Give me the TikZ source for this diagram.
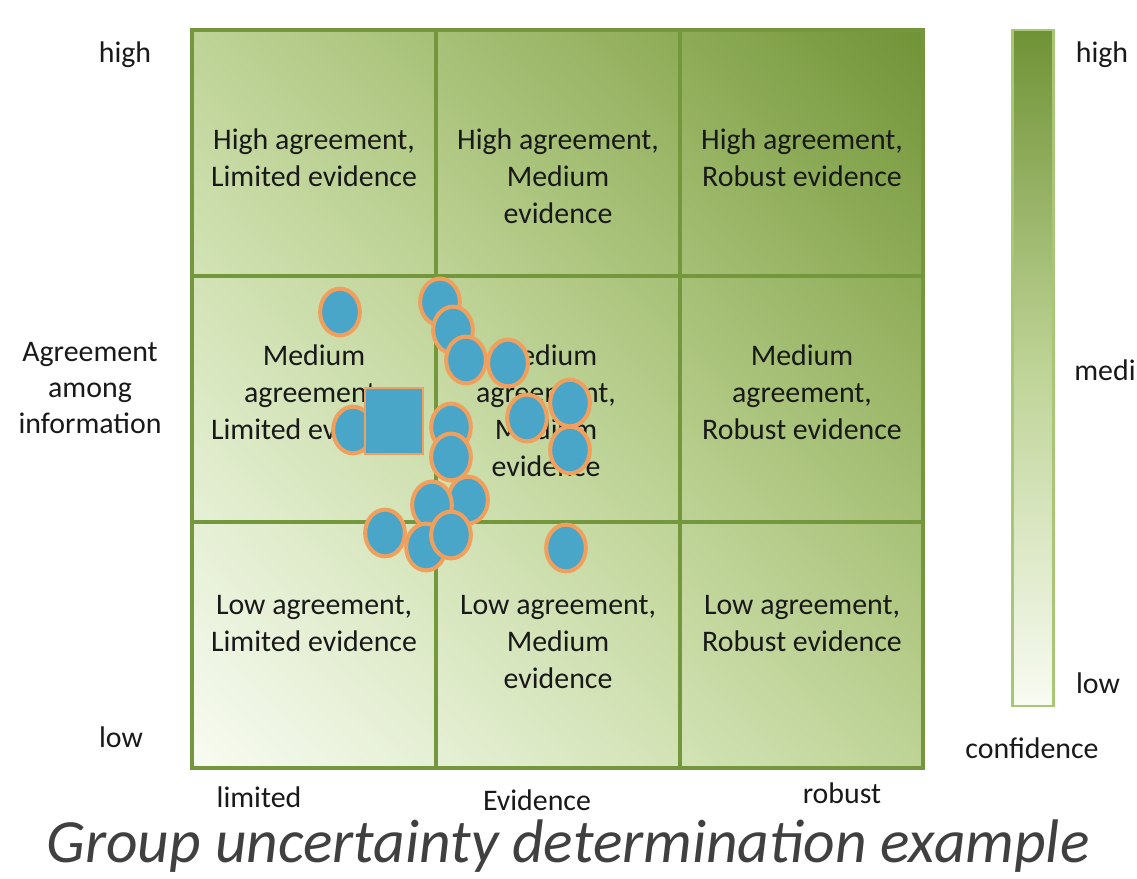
\documentclass[tikz,border=0pt]{standalone}
\usepackage{fontspec}
\setmainfont{Carlito}
\usepackage{tikz}
\usetikzlibrary{positioning}
\usetikzlibrary{shadings}

% green levels, light (0) to dark (6)
\definecolor{lev0}{RGB}{248,251,242}
\definecolor{lev1}{RGB}{230,240,214}
\definecolor{lev2}{RGB}{211,227,182}
\definecolor{lev3}{RGB}{190,211,150}
\definecolor{lev4}{RGB}{166,192,118}
\definecolor{lev5}{RGB}{141,171,86}
\definecolor{lev6}{RGB}{112,146,54}
\definecolor{gridgreen}{RGB}{116,150,60}
\definecolor{barborder}{RGB}{168,198,118}
\definecolor{dotblue}{RGB}{74,166,200}
\definecolor{dotorange}{RGB}{240,160,92}
\definecolor{capgray}{RGB}{64,64,64}

\tikzset{
  gridline/.style={draw=gridgreen, line width=2.2pt},
  celltext/.style={align=center, font=\fontsize{17}{21}\selectfont, anchor=north, text=black!90},
  sidetext/.style={align=center, font=\fontsize{17}{20.5}\selectfont, text=black!90},
  dot/.style={fill=dotblue, draw=dotorange, line width=2.3pt},
}

\begin{document}
\begin{tikzpicture}[x=0.02cm, y=-0.02cm]
  \useasboundingbox (0,0) rectangle (1137,879);

  % shaded cells, darker towards the upper right
  \foreach \i in {0,1,2}{
    \foreach \j in {0,1,2}{
      \pgfmathtruncatemacro{\lo}{\i+\j}
      \pgfmathtruncatemacro{\md}{\i+\j+1}
      \pgfmathtruncatemacro{\hi}{\i+\j+2}
      \pgfmathsetmacro{\xa}{192+\i*244}
      \pgfmathsetmacro{\ya}{768-\j*246}
      \shade[lower left=lev\lo, upper right=lev\hi,
             upper left=lev\md, lower right=lev\md]
        (\xa,\ya) rectangle (\xa+244,\ya-246);
    };
  };
  \draw[gridline] (192,30) rectangle (923,768);
  \draw[gridline] (436,30) -- (436,768);
  \draw[gridline] (680,30) -- (680,768);
  \draw[gridline] (192,276) -- (923,276);
  \draw[gridline] (192,522) -- (923,522);

  \node[celltext] (hl) at (314,123) {High agreement,\\Limited evidence};
  \node[celltext] (hm) at (558,123) {High agreement,\\Medium\\evidence};
  \node[celltext] (hr) at (802,123) {High agreement,\\Robust evidence};
  \node[celltext] (ml) at (314,339) {Medium\\agreement,\\Limited evidence};
  \node[celltext] (mm) at (546,339) {Medium\\agreement,\\Medium\\evidence};
  \node[celltext] (mr) at (802,339) {Medium\\agreement,\\Robust evidence};
  \node[celltext] (ll) at (314,589) {Low agreement,\\Limited evidence};
  \node[celltext] (lm) at (558,589) {Low agreement,\\Medium\\evidence};
  \node[celltext] (lr) at (802,589) {Low agreement,\\Robust evidence};

  % group votes
  \filldraw[dot] (353,430) ellipse[x radius=11.3pt, y radius=13.3pt];
  \filldraw[fill=dotblue, draw=dotorange, line width=0.8pt] (365,388) rectangle (423,454);
  \foreach \Point in {
    (340,312), (440,302), (453,330), (466,360), (508,363),
    (570,403), (527,418), (570,450), (451,427), (451,457),
    (468,500), (432,505), (385,533), (426,547), (451,535), (566,548)
  }{
    \filldraw[dot] \Point ellipse[x radius=11.3pt, y radius=13.3pt];
  };

  \node[sidetext] (yhigh) at (125,55) {high};
  \node[sidetext] (ylow) at (121,737) {low};
  \node[sidetext] (ylabel) at (90,388) {Agreement\\among\\information};
  \node[sidetext] (xlim) at (259,797) {limited};
  \node[sidetext, inner sep=0pt] (xlabel) at (537,800) {Evidence};
  \node[sidetext] (xrob) at (842,793) {robust};

  % confidence bar
  \shade[top color=lev6, bottom color=lev0, middle color=lev3] (1012,30) rectangle (1053,706);
  \draw[draw=barborder, line width=1.7pt] (1012,30) rectangle (1053,706);
  \node[sidetext] (chigh) at (1102,55) {high};
  \node[sidetext, anchor=west, inner sep=0pt] (cmed) at (1074,370) {medi};
  \node[sidetext] (clow) at (1098,683) {low};
  \node[sidetext] (conf) at (1032,748) {confidence};

  \node[font=\fontsize{35}{40}\selectfont\itshape, text=capgray, anchor=base, inner sep=0pt]
    (caption) at (568,862) {Group uncertainty determination example};
\end{tikzpicture}
\end{document}
